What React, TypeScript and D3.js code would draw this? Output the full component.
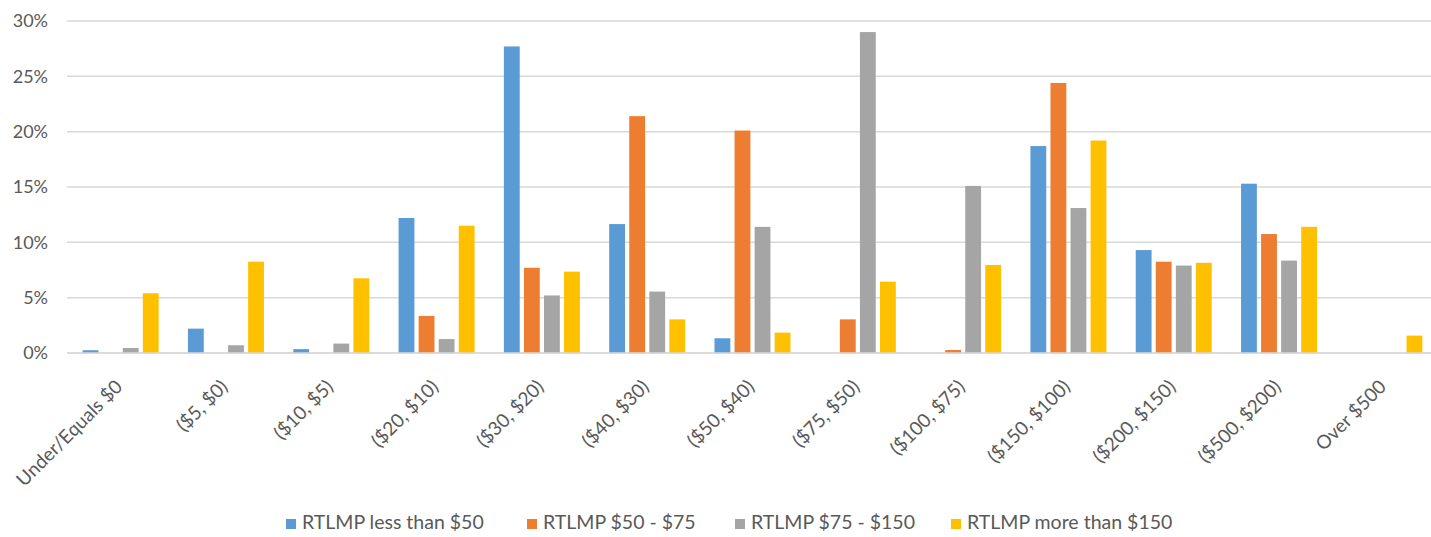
import React from "react";
import * as d3 from "d3";

const categories = [
  "Under/Equals $0",
  "($5, $0)",
  "($10, $5)",
  "($20, $10)",
  "($30, $20)",
  "($40, $30)",
  "($50, $40)",
  "($75, $50)",
  "($100, $75)",
  "($150, $100)",
  "($200, $150)",
  "($500, $200)",
  "Over $500",
];

const seriesNames = [
  "RTLMP less than $50",
  "RTLMP $50 - $75",
  "RTLMP $75 - $150",
  "RTLMP more than $150",
];

const seriesColors = ["#5B9BD5", "#ED7D31", "#A5A5A5", "#FFC000"];

// Share of intervals (%) per price bucket, one array per series
const lessThan50 = [0.25, 2.2, 0.35, 12.2, 27.7, 11.65, 1.33, 0, 0, 18.7, 9.3, 15.3, 0];
const from50to75 = [0, 0, 0, 3.35, 7.7, 21.4, 20.1, 3.04, 0.27, 24.4, 8.25, 10.75, 0];
const from75to150 = [0.45, 0.7, 0.85, 1.26, 5.2, 5.55, 11.4, 29.0, 15.1, 13.1, 7.9, 8.35, 0];
const moreThan150 = [5.4, 8.25, 6.75, 11.5, 7.35, 3.04, 1.84, 6.45, 7.95, 19.2, 8.15, 11.4, 1.57];

const seriesValues = [lessThan50, from50to75, from75to150, moreThan150];

const yTicks = [0, 5, 10, 15, 20, 25, 30];

const WIDTH = 1431;
const HEIGHT = 537;
const FONT = "Lato, 'Open Sans', sans-serif";
const TEXT_COLOR = "#595959";

export default function App() {
  const plotLeft = 68;
  const plotRight = 1437;
  const plotTop = 21;
  const plotBottom = 353;

  const x0 = d3.scaleBand<string>().domain(categories).range([plotLeft, plotRight]).padding(0);
  const groupWidth = 76;
  const x1 = d3
    .scaleBand<number>()
    .domain(d3.range(seriesNames.length))
    .range([0, groupWidth])
    .paddingInner(4 / 19);
  const y = d3.scaleLinear().domain([0, 30]).range([plotBottom, plotTop]);

  const groupOffset = (x0.bandwidth() - groupWidth) / 2;

  // Legend layout: swatch + label, laid out left to right
  const legendX = [286, 527, 735, 951];
  const legendBaseline = 529;

  return (
    <div style={{ position: "absolute", left: 0, top: 0 }}>
      <svg width={WIDTH} height={HEIGHT} style={{ display: "block", background: "#fff" }}>
        {/* gridlines */}
        {yTicks.map((t) => (
          <line
            key={`g${t}`}
            x1={plotLeft - 1}
            x2={WIDTH}
            y1={y(t)}
            y2={y(t)}
            stroke="#D9D9D9"
            strokeWidth={1.5}
          />
        ))}
        {/* y tick labels */}
        {yTicks.map((t) => (
          <text
            key={`yl${t}`}
            x={48}
            y={y(t)}
            dy="0.35em"
            textAnchor="end"
            fontFamily={FONT}
            fontSize={18}
            fill={TEXT_COLOR}
          >
            {`${t}%`}
          </text>
        ))}
        {/* bars */}
        {categories.map((c, ci) => (
          <g key={c} transform={`translate(${(x0(c) ?? 0) + groupOffset},0)`}>
            {seriesValues.map((vals, si) =>
              vals[ci] > 0 ? (
                <rect
                  key={si}
                  x={x1(si)}
                  y={y(vals[ci])}
                  width={x1.bandwidth()}
                  height={y(0) - y(vals[ci])}
                  fill={seriesColors[si]}
                />
              ) : null
            )}
          </g>
        ))}
        {/* x axis line */}
        <line x1={plotLeft - 1} x2={WIDTH} y1={y(0)} y2={y(0)} stroke="#D9D9D9" strokeWidth={1.5} />
        {/* category labels */}
        {categories.map((c) => {
          const cx = (x0(c) ?? 0) + x0.bandwidth() / 2;
          return (
            <text
              key={`xl${c}`}
              transform={`translate(${cx + 3},${388}) rotate(-45)`}
              textAnchor="end"
              fontFamily={FONT}
              fontSize={19}
              fill={TEXT_COLOR}
            >
              {c}
            </text>
          );
        })}
        {/* legend */}
        {seriesNames.map((name, i) => (
          <g key={name} transform={`translate(${legendX[i]},0)`}>
            <rect x={0} y={legendBaseline - 10} width={10} height={10} fill={seriesColors[i]} />
            <text x={16} y={legendBaseline} fontFamily={FONT} fontSize={19.5} fill={TEXT_COLOR}>
              {name}
            </text>
          </g>
        ))}
      </svg>
    </div>
  );
}
